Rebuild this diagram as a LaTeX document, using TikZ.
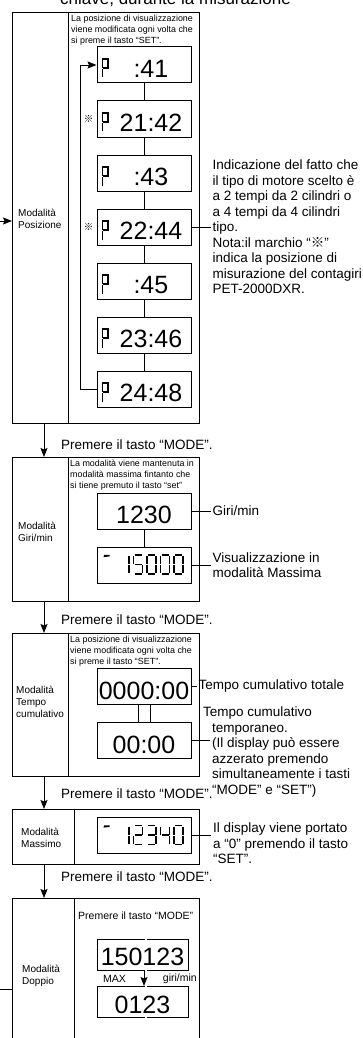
\documentclass[tikz,border=0pt]{standalone}
\usepackage{fontspec}
\setmainfont{Liberation Sans}
\newfontfamily\cjkfont{Noto Sans CJK JP}
\usetikzlibrary{arrows.meta,positioning}

% lcd segments, cell origin top left, y pointing down
\newcommand{\segA}{(1,8.5) -- (8,8.5)}
\newcommand{\segB}{(9,9.5) -- (9,17.5)}
\newcommand{\segC}{(9,18.5) -- (9,26.5)}
\newcommand{\segD}{(1,27.5) -- (8,27.5)}
\newcommand{\segE}{(0,18.5) -- (0,26.5)}
\newcommand{\segF}{(0,9.5) -- (0,17.5)}
\newcommand{\segG}{(1,18) -- (8,18)}
\newcommand{\lcdzero}{\segA \segB \segC \segD \segE \segF}
\newcommand{\lcdone}{\segB \segC}
\newcommand{\lcdtwo}{\segA \segB \segG \segE \segD}
\newcommand{\lcdthree}{\segA \segB \segG \segC \segD}
\newcommand{\lcdfour}{\segF \segG \segB \segC}
\newcommand{\lcdfive}{\segA \segF \segG \segC \segD}

% leading bar and digits inside a display
\newcommand{\lcdvalue}[2]{%
  \begin{scope}[shift={(#1.north west)}]
    \fill (7,10.6) -- (7.6,8.4) -- (13,8.4) -- (13,9.9) -- cycle;
    \foreach \d/\x in {#2}
      \draw[segline, xshift=\x] \d;
  \end{scope}}

% the P of the position displays
\newcommand{\segP}[1]{%
  \draw[segline, shift={(#1.north west)}] (6,31) -- (6,22.5) (6,21.5) -- (6,12.5) -- (11.5,12.5) -- (11.5,21.5) -- (6.6,21.5);}

\tikzset{
  frame/.style={line width=1pt},
  wire/.style={line width=0.9pt},
  flow/.style={line width=0.9pt, -{Stealth[length=9pt,width=7pt,inset=1.5pt]}},
  modebox/.style={draw, frame, inner sep=0, anchor=north west, minimum width=187pt},
  dispbox/.style={draw, frame, inner sep=0, minimum width=94pt, minimum height=36pt},
  dispsmall/.style={draw, frame, inner sep=0, minimum width=91pt, minimum height=31pt},
  dig/.style={font=\fontsize{25}{25}\selectfont, inner sep=0, anchor=base},
  segline/.style={line width=1.4pt},
  note/.style={font=\fontsize{8.9}{11}\selectfont, align=left, inner sep=1pt, anchor=north west},
  modelabel/.style={font=\fontsize{10}{12}\selectfont, align=left, inner sep=0, anchor=west},
  side/.style={font=\fontsize{13.5}{15.5}\selectfont, align=left, inner sep=2pt, anchor=west},
  small/.style={font=\fontsize{10.5}{12}\selectfont, inner sep=0},
  refmark/.style={font=\fontsize{9.5}{9.5}\cjkfont, inner sep=0},
  title/.style={font=\fontsize{17}{17}\selectfont, inner sep=0, anchor=base west},
  gap/.style={white, line width=1.4pt}
}

\begin{document}
\begin{tikzpicture}[x=1pt,y=-1pt]
\useasboundingbox (0,0) rectangle (363,1038);

% heading, cut by the page top
\node[title] (head) at (60,5) {chiave, durante la misurazione};

% Posizione
\node[modebox, minimum height=411pt] (pos) at (12,12) {};
\draw[frame] ([xshift=56pt]pos.north west) -- ([xshift=56pt]pos.south west);
\node[modelabel] (poslab) at (18,218.5) {Modalità\\Posizione};
\node[note] (posnote) at (70,13.5) {La posizione di visualizzazione\\viene modificata ogni volta che\\si preme il tasto “SET”.};
\node[dispbox] (p41) at (144,65) {};
\node[dispbox] (p42) at (144,119) {};
\node[dispbox] (p43) at (144,173) {};
\node[dispbox] (p44) at (144,227) {};
\node[dispbox] (p45) at (144,281) {};
\node[dispbox] (p46) at (144,335) {};
\node[dispbox] (p48) at (144,389) {};
\foreach \n/\t in {p41/:41, p43/:43, p45/:45}
  \node[dig, anchor=base east] at ([xshift=-23pt, yshift=6pt]\n.south east) {\t};
\foreach \n/\t in {p42/21:42, p44/22:44, p46/23:46, p48/24:48}
  \node[dig, anchor=base east] at ([xshift=-9pt, yshift=6pt]\n.south east) {\t};
\foreach \n in {p41,p42,p43,p44,p45,p46,p48} {\segP{\n}}
\node[refmark, left=3pt of p42] (m42) {※};
\node[refmark, left=3pt of p44] (m44) {※};
\draw[wire] (p41) -- (p42) (p42) -- (p43) (p43) -- (p44) (p44) -- (p45) (p45) -- (p46) (p46) -- (p48);
\draw[flow] (p48.west) -- ++(-16,0) |- (p41.west);
\node[side] (posinfo) at ([xshift=19pt]p44.east) {Indicazione del fatto che\\il tipo di motore scelto è\\a 2 tempi da 2 cilindri o\\a 4 tempi da 4 cilindri\\tipo.\\Nota:il marchio “{\cjkfont ※}”\\indica la posizione di\\misurazione del contagiri\\PET-2000DXR.};
\draw[wire] (p44) -- (posinfo);
\coordinate (loopin) at (0,221);
\draw[flow] (loopin) -- (loopin -| pos.west);

% Giri/min
\node[side] (mode1) at (59,445) {Premere il tasto “MODE”.};
\node[modebox, minimum height=144pt] (giri) at (12,457) {};
\draw[flow] ([xshift=32pt]pos.south west) -- ([xshift=32pt]giri.north west);
\draw[frame] ([xshift=56pt]giri.north west) -- ([xshift=56pt]giri.south west);
\node[modelabel] (girilab) at (18,532) {Modalità\\Giri/min};
\node[note] (girinote) at (69,458.5) {La modalità viene mantenuta in\\modalità massima fintanto che\\si tiene premuto il tasto “set”};
\node[dispbox] (g1) at (144,511) {};
\node[dispbox] (g2) at (144,565) {};
\node[dig] at ([yshift=6pt]g1.south) {1230};
\lcdvalue{g2}{\lcdone/23.5, \lcdfive/37, \lcdzero/50.5, \lcdzero/64, \lcdzero/77.5}
\draw[wire] (g1) -- (g2);
\node[side] (girirpm) at ([xshift=19pt]g1.east) {Giri/min};
\node[side] (girimax) at ([xshift=19pt]g2.east) {Visualizzazione in\\modalità Massima};
\draw[wire] (g1) -- (girirpm) (g2) -- (girimax);

% Tempo cumulativo
\node[side] (mode2) at (59,620) {Premere il tasto “MODE”.};
\node[modebox, minimum height=143pt] (tempo) at (12,633) {};
\draw[flow] ([xshift=32pt]giri.south west) -- ([xshift=32pt]tempo.north west);
\draw[frame] ([xshift=56pt]tempo.north west) -- ([xshift=56pt]tempo.south west);
\node[modelabel] (tempolab) at (16,702) {Modalità\\Tempo\\cumulativo};
\node[note] (temponote) at (69,634.5) {La posizione di visualizzazione\\viene modificata ogni volta che\\si preme il tasto “SET”.};
\node[dispbox] (t1) at (144,686.5) {};
\node[dispbox] (t2) at (144,740.5) {};
\node[dig] at ([yshift=6pt]t1.south) {0000:00};
\node[dig] at ([yshift=6pt]t2.south) {00:00};
\draw[wire] ([xshift=-6pt]t1.south) -- ([xshift=-6pt]t2.north) ([xshift=6pt]t1.south) -- ([xshift=6pt]t2.north);
\node[side] (tempotot) at ([xshift=5pt]t1.east) {Tempo cumulativo totale};
\draw[wire] (t1) -- (tempotot);
\node[side, anchor=north west] (tempotmp) at (210,705) {\hspace*{-9pt}Tempo cumulativo\\temporaneo.\\(Il display può essere\\azzerato premendo\\simultaneamente i tasti\\“MODE” e “SET”)};
\draw[wire] (t2.east) -- (t2.east -| tempotmp.west);

% Massimo
\node[side] (mode3) at (59,794) {Premere il tasto “MODE”.};
\node[modebox, minimum height=55pt] (mass) at (12,809) {};
\draw[flow] ([xshift=32pt]tempo.south west) -- ([xshift=32pt]mass.north west);
\draw[frame] ([xshift=62pt]mass.north west) -- ([xshift=62pt]mass.south west);
\node[modelabel] (masslab) at (21,838) {Modalità\\Massimo};
\node[dispbox] (m1) at (144,835.5) {};
\lcdvalue{m1}{\lcdone/23.5, \lcdtwo/37, \lcdthree/50.5, \lcdfour/64, \lcdzero/77.5}
\node[side, anchor=north west] (massinfo) at (211,821) {Il display viene portato\\a “0” premendo il tasto\\“SET”.};
\draw[wire] (m1.east) -- (m1.east -| massinfo.west);

% Doppio
\node[side] (mode4) at (59,877) {Premere il tasto “MODE”.};
\node[modebox, minimum height=160pt] (dop) at (12,898) {};
\draw[flow] ([xshift=32pt]mass.south west) -- ([xshift=32pt]dop.north west);
\draw[frame] ([xshift=62pt]dop.north west) -- ([xshift=62pt]dop.south west);
\node[modelabel] (doplab) at (22,976) {Modalità\\Doppio};
\node[small, anchor=west] (dopnote) at (78,916) {Premere il tasto “MODE”};
\node[dispsmall] (dd1) at (142.5,954.5) {};
\node[dispsmall] (dd2) at (142.5,1002) {};
\node[dig] at ([yshift=5pt]dd1.south) {150123};
\node[dig] at ([yshift=5pt]dd2.south) {0123};
\foreach \n in {dd1,dd2} \foreach \a in {north,south}
  \draw[gap] ([xshift=3.5pt,yshift=1.5pt]\n.\a) -- ++(0,3);
\draw[flow] ([xshift=1.5pt]dd1.south) -- ([xshift=1.5pt]dd2.north);
\node[small, anchor=west] (dopmax) at (103,979) {MAX};
\node[small, anchor=east] (doprpm) at (197,979) {giri/min};
\coordinate (loopout) at (0,989);
\draw[wire] (loopout) -- (loopout -| dop.west);
\end{tikzpicture}
\end{document}
